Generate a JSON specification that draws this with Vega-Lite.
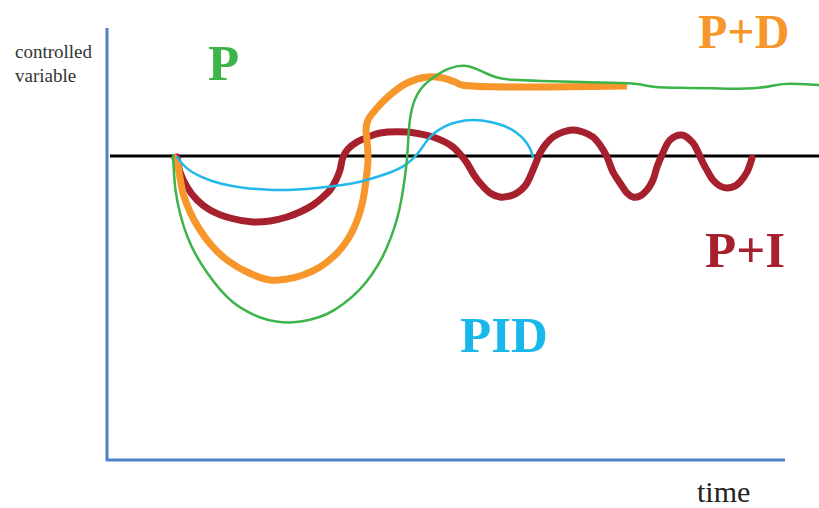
{
  "$schema": "https://vega.github.io/schema/vega-lite/v6.json",
  "width": 819,
  "height": 508,
  "padding": 0,
  "autosize": {"type": "none"},
  "background": "white",
  "config": {"view": {"stroke": null}},
  "datasets": {
    "curves": [
      {"s":"P","i":0,"x":173,"y":156},{"s":"P","i":1,"x":174,"y":172},{"s":"P","i":2,"x":175,"y":190},{"s":"P","i":3,"x":180,"y":215},{"s":"P","i":4,"x":187,"y":237},{"s":"P","i":5,"x":196,"y":256},{"s":"P","i":6,"x":207,"y":273},{"s":"P","i":7,"x":220,"y":290},{"s":"P","i":8,"x":233,"y":303},{"s":"P","i":9,"x":246,"y":311},{"s":"P","i":10,"x":260,"y":318},{"s":"P","i":11,"x":276,"y":322},{"s":"P","i":12,"x":293,"y":323},{"s":"P","i":13,"x":310,"y":320},{"s":"P","i":14,"x":327,"y":315},{"s":"P","i":15,"x":344,"y":304},{"s":"P","i":16,"x":360,"y":290},{"s":"P","i":17,"x":372,"y":275},{"s":"P","i":18,"x":383,"y":257},{"s":"P","i":19,"x":391,"y":238},{"s":"P","i":20,"x":398,"y":217},{"s":"P","i":21,"x":402,"y":197},{"s":"P","i":22,"x":405,"y":177},{"s":"P","i":23,"x":407,"y":160},{"s":"P","i":24,"x":408,"y":145},{"s":"P","i":25,"x":409,"y":125},{"s":"P","i":26,"x":412,"y":105},{"s":"P","i":27,"x":420,"y":88},{"s":"P","i":28,"x":433,"y":77},{"s":"P","i":29,"x":450,"y":67},{"s":"P","i":30,"x":465,"y":65},{"s":"P","i":31,"x":475,"y":68},{"s":"P","i":32,"x":485,"y":73},{"s":"P","i":33,"x":497,"y":78},{"s":"P","i":34,"x":510,"y":80},{"s":"P","i":35,"x":540,"y":81},{"s":"P","i":36,"x":580,"y":82},{"s":"P","i":37,"x":627,"y":83},{"s":"P","i":38,"x":640,"y":84},{"s":"P","i":39,"x":650,"y":87},{"s":"P","i":40,"x":680,"y":88},{"s":"P","i":41,"x":717,"y":88},{"s":"P","i":42,"x":727,"y":89},{"s":"P","i":43,"x":763,"y":88},{"s":"P","i":44,"x":775,"y":85},{"s":"P","i":45,"x":787,"y":83},{"s":"P","i":46,"x":819,"y":85},

      {"s":"PD","i":0,"x":173,"y":156},{"s":"PD","i":1,"x":177,"y":162},{"s":"PD","i":2,"x":180,"y":178},{"s":"PD","i":3,"x":183,"y":193},{"s":"PD","i":4,"x":190,"y":212},{"s":"PD","i":5,"x":200,"y":230},{"s":"PD","i":6,"x":212,"y":246},{"s":"PD","i":7,"x":227,"y":260},{"s":"PD","i":8,"x":247,"y":272},{"s":"PD","i":9,"x":270,"y":280},{"s":"PD","i":10,"x":287,"y":279},{"s":"PD","i":11,"x":303,"y":275},{"s":"PD","i":12,"x":320,"y":267},{"s":"PD","i":13,"x":333,"y":257},{"s":"PD","i":14,"x":344,"y":245},{"s":"PD","i":15,"x":353,"y":230},{"s":"PD","i":16,"x":359,"y":215},{"s":"PD","i":17,"x":363,"y":200},{"s":"PD","i":18,"x":366,"y":180},{"s":"PD","i":19,"x":368,"y":160},{"s":"PD","i":20,"x":367,"y":140},{"s":"PD","i":21,"x":366,"y":130},{"s":"PD","i":22,"x":368,"y":120},{"s":"PD","i":23,"x":377,"y":108},{"s":"PD","i":24,"x":390,"y":95},{"s":"PD","i":25,"x":407,"y":83},{"s":"PD","i":26,"x":427,"y":77},{"s":"PD","i":27,"x":443,"y":78},{"s":"PD","i":28,"x":455,"y":82},{"s":"PD","i":29,"x":462,"y":85},{"s":"PD","i":30,"x":627,"y":86},

      {"s":"PID","i":0,"x":177,"y":157},{"s":"PID","i":1,"x":185,"y":168},{"s":"PID","i":2,"x":200,"y":177},{"s":"PID","i":3,"x":220,"y":184},{"s":"PID","i":4,"x":243,"y":188},{"s":"PID","i":5,"x":268,"y":190},{"s":"PID","i":6,"x":293,"y":190},{"s":"PID","i":7,"x":320,"y":188},{"s":"PID","i":8,"x":343,"y":185},{"s":"PID","i":9,"x":360,"y":182},{"s":"PID","i":10,"x":377,"y":177},{"s":"PID","i":11,"x":392,"y":172},{"s":"PID","i":12,"x":403,"y":167},{"s":"PID","i":13,"x":412,"y":160},{"s":"PID","i":14,"x":420,"y":151},{"s":"PID","i":15,"x":427,"y":140},{"s":"PID","i":16,"x":435,"y":132},{"s":"PID","i":17,"x":445,"y":126},{"s":"PID","i":18,"x":455,"y":122},{"s":"PID","i":19,"x":473,"y":119},{"s":"PID","i":20,"x":493,"y":122},{"s":"PID","i":21,"x":505,"y":126},{"s":"PID","i":22,"x":513,"y":130},{"s":"PID","i":23,"x":521,"y":136},{"s":"PID","i":24,"x":527,"y":143},{"s":"PID","i":25,"x":531,"y":150},{"s":"PID","i":26,"x":533,"y":157},

      {"s":"PI","i":0,"x":177,"y":157},{"s":"PI","i":1,"x":180,"y":172},{"s":"PI","i":2,"x":187,"y":187},{"s":"PI","i":3,"x":197,"y":200},{"s":"PI","i":4,"x":210,"y":210},{"s":"PI","i":5,"x":230,"y":218},{"s":"PI","i":6,"x":253,"y":222},{"s":"PI","i":7,"x":270,"y":221},{"s":"PI","i":8,"x":287,"y":217},{"s":"PI","i":9,"x":300,"y":212},{"s":"PI","i":10,"x":313,"y":205},{"s":"PI","i":11,"x":323,"y":197},{"s":"PI","i":12,"x":330,"y":190},{"s":"PI","i":13,"x":336,"y":180},{"s":"PI","i":14,"x":340,"y":170},{"s":"PI","i":15,"x":343,"y":157},{"s":"PI","i":16,"x":348,"y":149},{"s":"PI","i":17,"x":357,"y":142},{"s":"PI","i":18,"x":368,"y":137},{"s":"PI","i":19,"x":380,"y":133},{"s":"PI","i":20,"x":407,"y":132},{"s":"PI","i":21,"x":420,"y":134},{"s":"PI","i":22,"x":433,"y":137},{"s":"PI","i":23,"x":445,"y":142},{"s":"PI","i":24,"x":453,"y":147},{"s":"PI","i":25,"x":460,"y":154},{"s":"PI","i":26,"x":467,"y":163},{"s":"PI","i":27,"x":474,"y":175},{"s":"PI","i":28,"x":480,"y":183},{"s":"PI","i":29,"x":490,"y":193},{"s":"PI","i":30,"x":500,"y":197},{"s":"PI","i":31,"x":510,"y":196},{"s":"PI","i":32,"x":517,"y":193},{"s":"PI","i":33,"x":525,"y":186},{"s":"PI","i":34,"x":530,"y":177},{"s":"PI","i":35,"x":535,"y":165},{"s":"PI","i":36,"x":540,"y":153},{"s":"PI","i":37,"x":546,"y":144},{"s":"PI","i":38,"x":553,"y":137},{"s":"PI","i":39,"x":563,"y":132},{"s":"PI","i":40,"x":573,"y":130},{"s":"PI","i":41,"x":583,"y":132},{"s":"PI","i":42,"x":593,"y":137},{"s":"PI","i":43,"x":600,"y":145},{"s":"PI","i":44,"x":607,"y":157},{"s":"PI","i":45,"x":613,"y":172},{"s":"PI","i":46,"x":620,"y":183},{"s":"PI","i":47,"x":627,"y":193},{"s":"PI","i":48,"x":633,"y":197},{"s":"PI","i":49,"x":640,"y":196},{"s":"PI","i":50,"x":647,"y":190},{"s":"PI","i":51,"x":653,"y":180},{"s":"PI","i":52,"x":657,"y":167},{"s":"PI","i":53,"x":662,"y":155},{"s":"PI","i":54,"x":670,"y":140},{"s":"PI","i":55,"x":682,"y":135},{"s":"PI","i":56,"x":693,"y":143},{"s":"PI","i":57,"x":698,"y":152},{"s":"PI","i":58,"x":703,"y":163},{"s":"PI","i":59,"x":708,"y":172},{"s":"PI","i":60,"x":713,"y":180},{"s":"PI","i":61,"x":720,"y":186},{"s":"PI","i":62,"x":727,"y":188},{"s":"PI","i":63,"x":735,"y":186},{"s":"PI","i":64,"x":740,"y":182},{"s":"PI","i":65,"x":747,"y":172},{"s":"PI","i":66,"x":752,"y":158}
    ]
  },
  "layer": [
    {
      "data": {"values": [
        {"kind":"axis","x":107,"y":28,"x2":107,"y2":461},
        {"kind":"axis","x":106,"y":460,"x2":785,"y2":460}
      ]},
      "mark": {"type": "rule", "color": "#4f81c7", "strokeWidth": 3},
      "encoding": {
        "x": {"field": "x", "type": "quantitative", "scale": {"domain": [0, 819], "nice": false, "zero": false}, "axis": null},
        "y": {"field": "y", "type": "quantitative", "scale": {"domain": [0, 508], "reverse": true, "nice": false, "zero": false}, "axis": null},
        "x2": {"field": "x2"},
        "y2": {"field": "y2"}
      }
    },
    {
      "data": {"values": [{"kind":"setpoint","x":110,"y":156,"x2":819,"y2":156}]},
      "mark": {"type": "rule", "color": "#000000", "strokeWidth": 3},
      "encoding": {
        "x": {"field": "x", "type": "quantitative", "scale": {"domain": [0, 819], "nice": false, "zero": false}, "axis": null},
        "y": {"field": "y", "type": "quantitative", "scale": {"domain": [0, 508], "reverse": true, "nice": false, "zero": false}, "axis": null},
        "x2": {"field": "x2"},
        "y2": {"field": "y2"}
      }
    },
    {
      "data": {"name": "curves"},
      "transform": [{"filter": "datum.s === 'PI'"}],
      "mark": {"type": "line", "color": "#a6202d", "strokeWidth": 7, "interpolate": "catmull-rom", "strokeCap": "round", "strokeJoin": "round"},
      "encoding": {
        "x": {"field": "x", "type": "quantitative", "scale": {"domain": [0, 819], "nice": false, "zero": false}, "axis": null},
        "y": {"field": "y", "type": "quantitative", "scale": {"domain": [0, 508], "reverse": true, "nice": false, "zero": false}, "axis": null},
        "order": {"field": "i", "type": "quantitative"}
      }
    },
    {
      "data": {"name": "curves"},
      "transform": [{"filter": "datum.s === 'PD'"}],
      "mark": {"type": "line", "color": "#f7962a", "strokeWidth": 7, "interpolate": "catmull-rom", "strokeCap": "butt", "strokeJoin": "round"},
      "encoding": {
        "x": {"field": "x", "type": "quantitative", "scale": {"domain": [0, 819], "nice": false, "zero": false}, "axis": null},
        "y": {"field": "y", "type": "quantitative", "scale": {"domain": [0, 508], "reverse": true, "nice": false, "zero": false}, "axis": null},
        "order": {"field": "i", "type": "quantitative"}
      }
    },
    {
      "data": {"name": "curves"},
      "transform": [{"filter": "datum.s === 'PID'"}],
      "mark": {"type": "line", "color": "#22b8ea", "strokeWidth": 2.5, "interpolate": "basis", "strokeCap": "round"},
      "encoding": {
        "x": {"field": "x", "type": "quantitative", "scale": {"domain": [0, 819], "nice": false, "zero": false}, "axis": null},
        "y": {"field": "y", "type": "quantitative", "scale": {"domain": [0, 508], "reverse": true, "nice": false, "zero": false}, "axis": null},
        "order": {"field": "i", "type": "quantitative"}
      }
    },
    {
      "data": {"name": "curves"},
      "transform": [{"filter": "datum.s === 'P'"}],
      "mark": {"type": "line", "color": "#3cb44a", "strokeWidth": 2.5, "interpolate": "basis", "strokeCap": "round"},
      "encoding": {
        "x": {"field": "x", "type": "quantitative", "scale": {"domain": [0, 819], "nice": false, "zero": false}, "axis": null},
        "y": {"field": "y", "type": "quantitative", "scale": {"domain": [0, 508], "reverse": true, "nice": false, "zero": false}, "axis": null},
        "order": {"field": "i", "type": "quantitative"}
      }
    },
    {
      "data": {"values": [
        {"label":"P","x":208,"y":80},
        {"label":"P+I","x":705,"y":267},
        {"label":"PID","x":460,"y":352}
      ]},
      "mark": {"type": "text", "font": "Liberation Serif", "fontWeight": "bold", "fontSize": 51, "align": "left", "baseline": "alphabetic"},
      "encoding": {
        "x": {"field": "x", "type": "quantitative", "scale": {"domain": [0, 819], "nice": false, "zero": false}, "axis": null},
        "y": {"field": "y", "type": "quantitative", "scale": {"domain": [0, 508], "reverse": true, "nice": false, "zero": false}, "axis": null},
        "text": {"field": "label"},
        "color": {"field": "label", "type": "nominal", "legend": null,
          "scale": {"domain": ["P","P+D","P+I","PID"], "range": ["#3cb44a","#f7962a","#a6202d","#1ab8ea"]}}
      }
    },
    {
      "data": {"values": [
        {"label":"P+D","x":698,"y":48}
      ]},
      "mark": {"type": "text", "font": "Liberation Serif", "fontWeight": "bold", "fontSize": 48, "align": "left", "baseline": "alphabetic", "color": "#f7962a"},
      "encoding": {
        "x": {"field": "x", "type": "quantitative", "scale": {"domain": [0, 819], "nice": false, "zero": false}, "axis": null},
        "y": {"field": "y", "type": "quantitative", "scale": {"domain": [0, 508], "reverse": true, "nice": false, "zero": false}, "axis": null},
        "text": {"field": "label"}
      }
    },
    {
      "data": {"values": [
        {"label":"controlled","x":15,"y":58},
        {"label":"variable","x":15,"y":82}
      ]},
      "mark": {"type": "text", "font": "Liberation Serif", "fontSize": 19, "align": "left", "baseline": "alphabetic", "color": "#333333"},
      "encoding": {
        "x": {"field": "x", "type": "quantitative", "scale": {"domain": [0, 819], "nice": false, "zero": false}, "axis": null},
        "y": {"field": "y", "type": "quantitative", "scale": {"domain": [0, 508], "reverse": true, "nice": false, "zero": false}, "axis": null},
        "text": {"field": "label"}
      }
    },
    {
      "data": {"values": [{"label":"time","x":697,"y":502}]},
      "mark": {"type": "text", "font": "Liberation Serif", "fontSize": 30, "align": "left", "baseline": "alphabetic", "color": "#222222"},
      "encoding": {
        "x": {"field": "x", "type": "quantitative", "scale": {"domain": [0, 819], "nice": false, "zero": false}, "axis": null},
        "y": {"field": "y", "type": "quantitative", "scale": {"domain": [0, 508], "reverse": true, "nice": false, "zero": false}, "axis": null},
        "text": {"field": "label"}
      }
    }
  ]
}
